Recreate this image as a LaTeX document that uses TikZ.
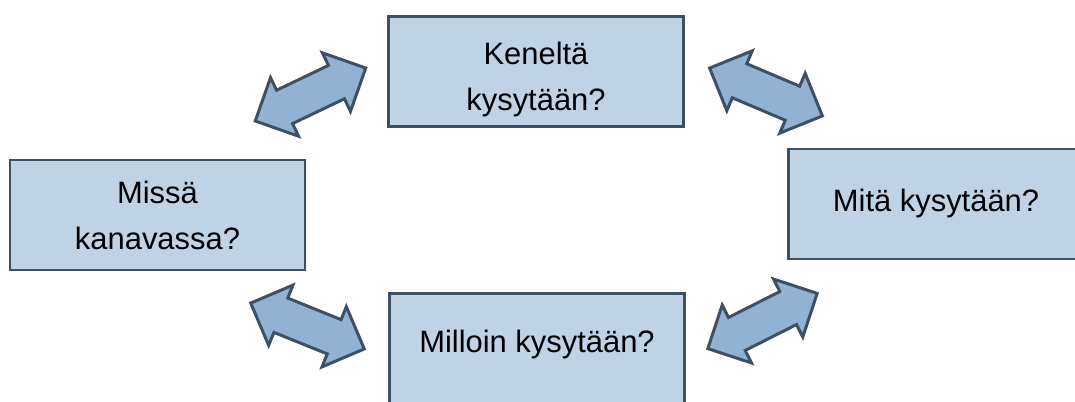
\documentclass[tikz,border=0pt]{standalone}
\usepackage{fontspec}
\setmainfont{Liberation Sans}
\usepackage{xcolor}
\usepackage{tikz}
\usetikzlibrary{shapes.arrows}

\definecolor{boxfill}{HTML}{C0D3E5}
\definecolor{boxline}{HTML}{3E5062}
\definecolor{arrowfill}{HTML}{91B2D2}

\begin{document}
\begin{tikzpicture}[
    question/.style={draw=boxline, fill=boxfill, line width=1.7pt, minimum width=5.9cm, minimum height=2.2cm, align=center, font=\fontsize{17.6}{26.2}\selectfont},
    both/.style={double arrow, draw=boxline, fill=arrowfill, line width=1.7pt, inner xsep=0pt, inner ysep=0.34cm, minimum height=2.45cm, double arrow head extend=0.28cm},
]
    \useasboundingbox (0, 0) rectangle (21.5, -8.02);

    % the four questions
    \node[question, text height=1.67cm] (who) at (10.72, -1.43) {Keneltä\\kysytään?};
    \node[question] (where) at (3.15, -4.30) {Missä\\kanavassa?};
    \node[question] (what) at (18.72, -4.08) {Mitä kysytään?};
    \node[question, text depth=0.3cm] (when) at (10.74, -6.97) {Milloin kysytään?};

    % two-way arrows between them
    \node[both, rotate=25.6] (where-who) at (6.21, -1.89) {};
    \node[both, rotate=-23] (who-what) at (15.32, -1.84) {};
    \node[both, rotate=-22] (where-when) at (6.15, -6.52) {};
    \node[both, rotate=26.8] (when-what) at (15.25, -6.42) {};
\end{tikzpicture}
\end{document}
